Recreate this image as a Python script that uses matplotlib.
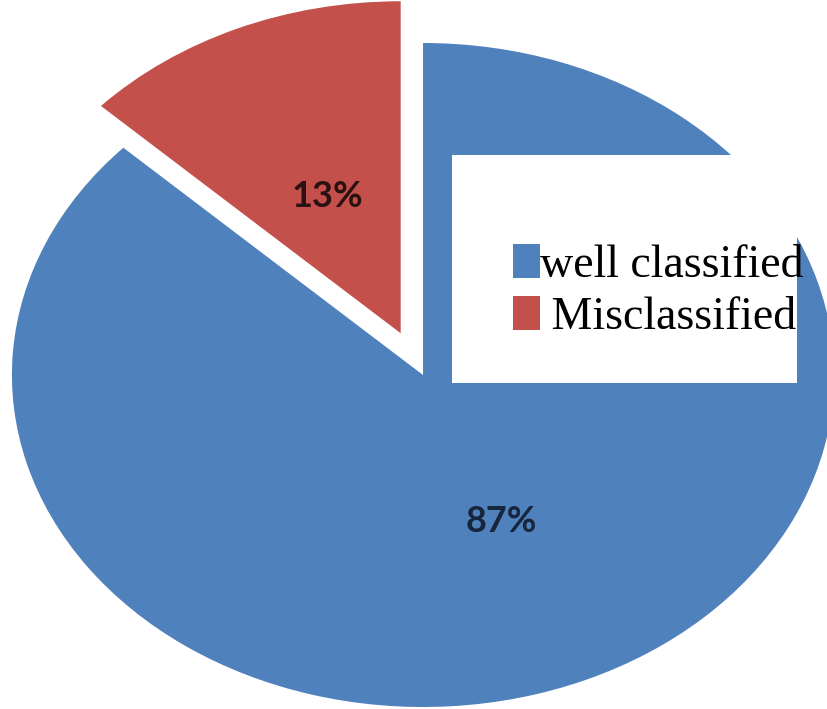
import matplotlib.pyplot as plt
import matplotlib.patches as mpatches
import numpy as np

categories = ['well classified', ' Misclassified']
shares = [87, 13]
colors = ['#4F81BD', '#C4504C']
explode = [0, 0.137]
label_colors = ['#17253d', '#2a1212']
label_dist = [0.48, 0.45]

fig = plt.figure(figsize=(8.28, 7.09), dpi=100)
ax = fig.add_axes([0, 0, 1, 1])

wedges, texts, autotexts = ax.pie(shares, colors=colors, explode=explode,
                                  startangle=90, counterclock=False,
                                  autopct='%1.0f%%', pctdistance=0.5)

# put each percentage at its own distance from the wedge centre
for w, t, d, c in zip(wedges, autotexts, label_dist, label_colors):
    mid = np.deg2rad((w.theta1 + w.theta2) / 2)
    cx, cy = w.center
    t.set_position((cx + d * np.cos(mid), cy + d * np.sin(mid)))
    t.set_fontfamily('Lato')
    t.set_fontweight('bold')
    t.set_fontsize(26)
    t.set_color(c)

# stretched ellipse, cropped on the top and right
ax.set_aspect('auto')
ax.set_xlim(-1.029, 0.985)
ax.set_ylim(-1.006, 1.1295)
ax.axis('off')

# white box behind the legend
box = mpatches.Rectangle((0.546, 0.4598), 0.4167, 0.3216, transform=ax.transAxes,
                         facecolor='white', edgecolor='none', zorder=3)
ax.add_patch(box)

handles = [mpatches.Patch(facecolor=c, edgecolor='none') for c in colors]
leg = ax.legend(handles, categories, loc='upper left',
                bbox_to_anchor=(0.5915, 0.688), bbox_transform=fig.transFigure,
                frameon=False, borderpad=0, handlelength=0.6, handleheight=0.75,
                handletextpad=0.0, labelspacing=0.2,
                prop={'family': 'Liberation Serif', 'size': 33})
leg.set_zorder(4)

fig.savefig('out.png', dpi=100)
